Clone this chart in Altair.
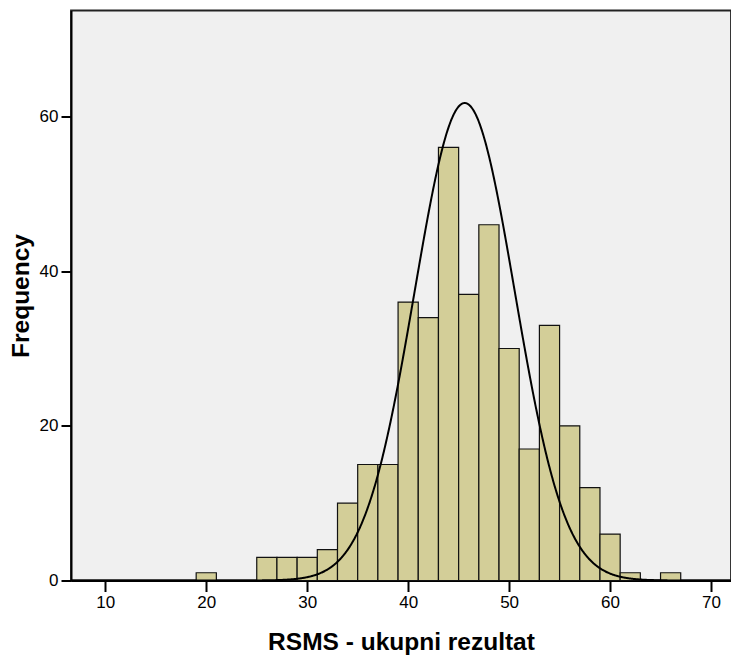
import altair as alt
import pandas as pd

# Histogram bins (width 2) and frequencies
bin_start = [19, 25, 27, 29, 31, 33, 35, 37, 39, 41, 43, 45, 47, 49, 51, 53, 55, 57, 59, 61, 65]
bin_end = [21, 27, 29, 31, 33, 35, 37, 39, 41, 43, 45, 47, 49, 51, 53, 55, 57, 59, 61, 63, 67]
frequency = [1, 3, 3, 3, 4, 10, 15, 15, 36, 34, 56, 37, 46, 30, 17, 33, 20, 12, 6, 1, 1]

# Normal curve parameters
curve_mean = 45.6
curve_sd = 4.95
n_total = 383
bin_width = 2

x_ticks = [10, 20, 30, 40, 50, 60, 70]
y_ticks = [0, 20, 40, 60]
x_domain = [6.6, 71.98]
y_domain = [0, 73.7]

df = pd.DataFrame({"start": bin_start, "end": bin_end, "count": frequency})

FONT = "Liberation Sans"

xscale = alt.Scale(domain=x_domain, nice=False, zero=False)
yscale = alt.Scale(domain=y_domain, nice=False)

bars = alt.Chart(df).mark_rect(
    fill="#D3CE98", stroke="#111111", strokeWidth=1.2
).encode(
    x=alt.X("start:Q", scale=xscale,
            axis=alt.Axis(values=x_ticks, title="RSMS - ukupni rezultat", grid=False)),
    x2="end:Q",
    y=alt.Y("count:Q", scale=yscale,
            axis=alt.Axis(values=y_ticks, title="Frequency", grid=False)),
    y2=alt.datum(0),
)

curve = alt.Chart(alt.sequence(x_domain[0], x_domain[1], 0.05, as_="x")).transform_calculate(
    y=f"{n_total}*{bin_width}/({curve_sd}*sqrt(2*PI))*exp(-0.5*pow((datum.x-{curve_mean})/{curve_sd},2))"
).mark_line(color="black", strokeWidth=2).encode(
    x=alt.X("x:Q", scale=xscale),
    y=alt.Y("y:Q", scale=yscale),
)

chart = alt.layer(bars, curve).properties(
    width=660, height=570,
    autosize=alt.AutoSizeParams(type="none"),
    padding={"left": 63, "top": 2.5, "right": 0, "bottom": 74},
).configure_view(
    fill="#F0F0F0", stroke="#222222", strokeWidth=1.8
).configure_axis(
    domainColor="black", domainWidth=2, tickColor="black", tickWidth=2, tickSize=10,
    labelFont=FONT, labelFontSize=17, labelColor="black", labelPadding=3,
    titleFont=FONT, titleFontSize=24.5, titleFontWeight="bold", titleColor="black",
).configure_axisX(
    titlePadding=20, tickSize=11,
).configure_axisY(
    titlePadding=6,
)

chart.save("out.html", embed_options={"renderer": "svg", "actions": False})
